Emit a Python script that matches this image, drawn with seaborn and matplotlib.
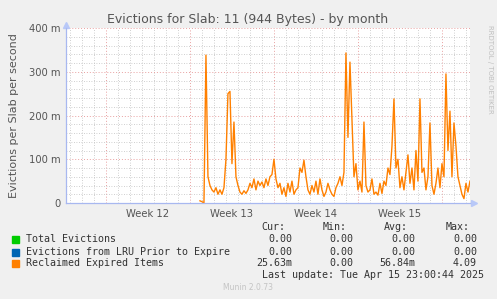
import numpy as np
import pandas as pd
import matplotlib.pyplot as plt
import seaborn as sns

# Reclaimed expired items, in milli-evictions per second, one sample every 4 hours
reclaimed = [5, 3, 0, 338, 60, 40, 30, 25, 35, 20, 30, 20, 35, 100, 250, 255, 90, 185, 60, 40,
             25, 20, 28, 22, 30, 45, 35, 55, 30, 50, 40, 48, 35, 55, 40, 60, 65, 100, 55, 35,
             45, 20, 35, 15, 45, 25, 50, 20, 30, 35, 80, 70, 98, 60, 30, 20, 40, 25, 50, 20,
             55, 30, 15, 25, 45, 30, 20, 15, 35, 45, 60, 40, 70, 343, 150, 322, 190, 60, 90, 30,
             50, 25, 185, 40, 25, 30, 55, 20, 25, 18, 45, 22, 50, 40, 80, 65, 130, 238, 80, 100,
             35, 60, 30, 70, 110, 45, 80, 30, 120, 50, 238, 70, 80, 30, 60, 183, 40, 20, 45, 80,
             35, 90, 60, 295, 120, 210, 60, 183, 130, 60, 40, 20, 10, 45, 25, 50]
start_day = 7.83      # days after the start of week 12
step_day = 1 / 6

weeks = ["Week 12", "Week 13", "Week 14", "Week 15"]
legend_names = ["Total Evictions", "Evictions from LRU Prior to Expire", "Reclaimed Expired Items"]
legend_colors = ["#00cc00", "#0066b3", "#ff8000"]
cur = ["0.00", "0.00", "25.63m"]
mins = ["0.00", "0.00", "0.00"]
avgs = ["0.00", "0.00", "56.84m"]
maxs = ["0.00", "0.00", "4.09"]

df = pd.DataFrame({"day": start_day + step_day * np.arange(len(reclaimed)),
                   "value": reclaimed})

W, H = 497, 299
fig = plt.figure(figsize=(W / 100, H / 100), dpi=100, facecolor="#f0f0f0")
ax = fig.add_axes([66 / W, (H - 203) / H, (470 - 66) / W, (203 - 28) / H])
ax.set_facecolor("white")

sns.lineplot(data=df, x="day", y="value", ax=ax, color="#ff8000", linewidth=1.0)

ax.set_xlim(-40 / 12, 364 / 12)
ax.set_ylim(0, 400)

# grid: minor grey every day / 20 m, major red every week / 100 m
for d in np.arange(-3, 31, 1):
    if d % 7 != 0:
        ax.axvline(d, color="#c0c0c0", lw=0.6, ls=(0, (1, 2)), zorder=0)
for d in range(0, 31, 7):
    ax.axvline(d, color="#e8a0a0", lw=0.7, ls=(0, (1, 2)), zorder=0)
for v in range(20, 401, 20):
    if v % 100 != 0:
        ax.axhline(v, color="#c0c0c0", lw=0.6, ls=(0, (1, 2)), zorder=0)
for v in range(100, 401, 100):
    ax.axhline(v, color="#e8a0a0", lw=0.7, ls=(0, (1, 2)), zorder=0)

ax.set_yticks([0, 100, 200, 300, 400])
ax.set_yticklabels(["0", "100 m", "200 m", "300 m", "400 m"])
ax.set_xticks([3.5, 10.5, 17.5, 24.5])
ax.set_xticklabels(weeks)
ax.tick_params(length=0, labelsize=7.2, colors="#555555", pad=4)
ax.set_xlabel("")
ax.set_ylabel("Evictions per Slab per second", fontsize=8, color="#555555", labelpad=7)

for s in ["top", "right"]:
    ax.spines[s].set_visible(False)
for s in ["left", "bottom"]:
    ax.spines[s].set_color("#a8b8f0")
    ax.spines[s].set_linewidth(0.9)
ax.plot(0, 1.02, marker="^", color="#b8c8f8", ms=4, transform=ax.transAxes, clip_on=False)
ax.plot(1.01, 0, marker=">", color="#b8c8f8", ms=4, transform=ax.transAxes, clip_on=False)

fig.text(248 / W, 1 - 20 / H, "Evictions for Slab: 11 (944 Bytes) - by month",
         ha="center", va="center", fontsize=9, color="#555555")
fig.text(490 / W, 1 - 25 / H, "RRDTOOL / TOBI OETIKER", rotation=270, ha="center", va="top",
         fontsize=5, color="#c0c0c0")

mono = "DejaVu Sans Mono"
fs = 7.2
for lab, x in zip(["Cur:", "Min:", "Avg:", "Max:"], [285, 347, 408, 470]):
    fig.text(x / W, 1 - 227 / H, lab, ha="right", va="center", family=mono, fontsize=fs, color="#333333")
rows_y = [239.5, 252, 263.5]
for i in range(3):
    y = 1 - rows_y[i] / H
    fig.patches.append(plt.Rectangle((12 / W, y - 3.5 / H), 7 / W, 7 / H, color=legend_colors[i],
                                     transform=fig.transFigure, figure=fig))
    fig.text(26 / W, y, legend_names[i], ha="left", va="center", family=mono, fontsize=fs, color="#333333")
    for col, x in zip([cur, mins, avgs, maxs], [292, 353, 415, 477]):
        fig.text(x / W, y, col[i], ha="right", va="center", family=mono, fontsize=fs, color="#333333")
fig.text(262 / W, 1 - 275 / H, "Last update: Tue Apr 15 23:00:44 2025", ha="left", va="center",
         family=mono, fontsize=fs, color="#333333")
fig.text(248 / W, 1 - 288 / H, "Munin 2.0.73", ha="center", va="center", fontsize=5.5, color="#c4c4c4")

fig.savefig("out.png", dpi=100, facecolor=fig.get_facecolor())
